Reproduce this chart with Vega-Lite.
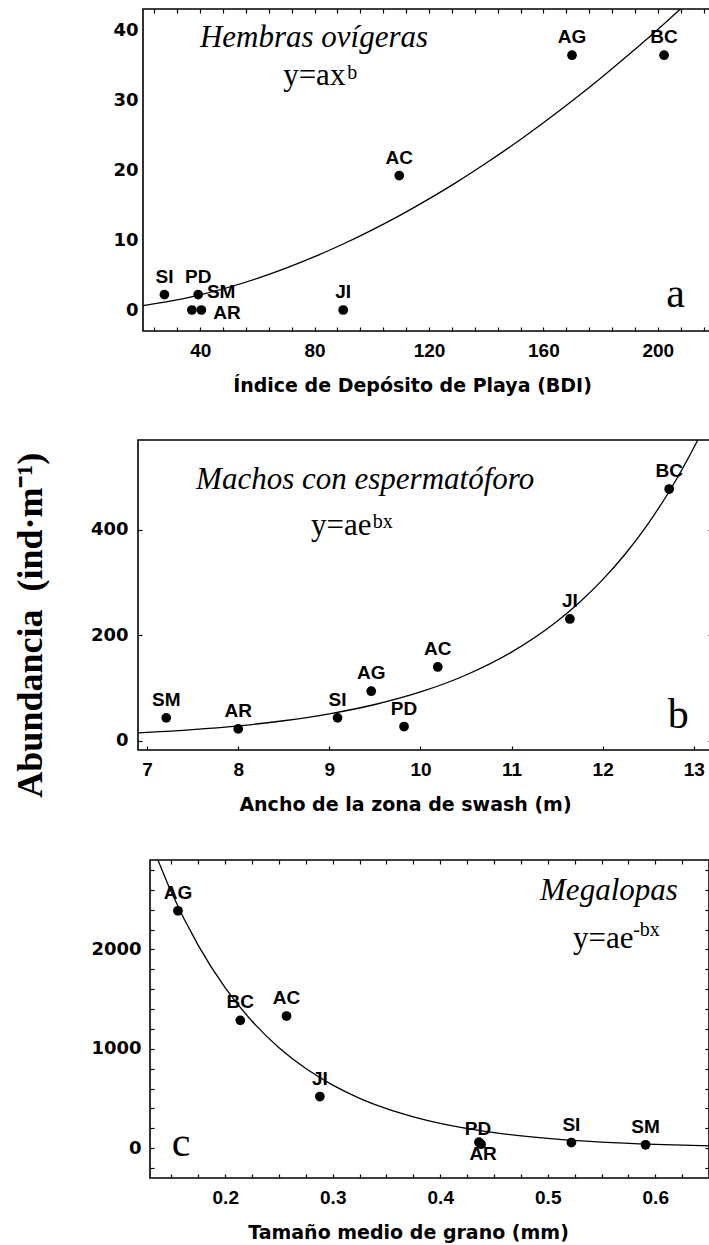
{
  "$schema": "https://vega.github.io/schema/vega-lite/v6.json",
  "padding": {"left": 12, "top": 7, "right": 0, "bottom": 0},
  "background": "white",
  "title": {"text": "Abundancia \u00a0(ind\u00b7m\u207b\u00b9)", "orient": "left", "anchor": "middle", "font": "Liberation Serif", "fontSize": 36, "fontWeight": "bold", "color": "black", "offset": 10},
  "config": {
    "view": {"stroke": "black", "strokeWidth": 1.6},
    "axis": {"domain": false, "grid": false, "labelFont": "Liberation Sans", "labelFontWeight": "bold", "labelFontSize": 19, "labelColor": "black", "tickColor": "black", "tickWidth": 1.2, "titleFont": "DejaVu Sans", "titleFontWeight": "bold", "titleFontSize": 19, "titleColor": "black", "labelOverlap": false, "labelFlush": false},
    "text": {"color": "black"}
  },
  "datasets": {
    "ptsA": [
      {"site": "SI", "x": 27.5, "y": 2.2},
      {"site": "PD", "x": 39.3, "y": 2.2},
      {"site": "SM", "x": 37.1, "y": 0},
      {"site": "AR", "x": 40.4, "y": 0},
      {"site": "JI", "x": 90, "y": 0},
      {"site": "AC", "x": 109.6, "y": 19.2},
      {"site": "AG", "x": 170, "y": 36.4},
      {"site": "BC", "x": 202.2, "y": 36.4}
    ],
    "curveA": [
      {"x": 20, "y": 0.62}, {"x": 30, "y": 1.29}, {"x": 40, "y": 2.17}, {"x": 50, "y": 3.25},
      {"x": 60, "y": 4.52}, {"x": 70, "y": 5.98}, {"x": 80, "y": 7.62}, {"x": 90, "y": 9.43},
      {"x": 100, "y": 11.41}, {"x": 110, "y": 13.55}, {"x": 120, "y": 15.87}, {"x": 130, "y": 18.34},
      {"x": 140, "y": 20.99}, {"x": 150, "y": 23.78}, {"x": 160, "y": 26.75}, {"x": 170, "y": 29.86},
      {"x": 180, "y": 33.12}, {"x": 190, "y": 36.53}, {"x": 200, "y": 40.07}, {"x": 210, "y": 43.79}
    ],
    "ptsB": [
      {"site": "SM", "x": 7.21, "y": 43},
      {"site": "AR", "x": 8.0, "y": 22},
      {"site": "SI", "x": 9.09, "y": 43},
      {"site": "AG", "x": 9.46, "y": 93.5},
      {"site": "PD", "x": 9.82, "y": 26.5},
      {"site": "AC", "x": 10.19, "y": 139.5},
      {"site": "JI", "x": 11.64, "y": 230.5},
      {"site": "BC", "x": 12.73, "y": 477}
    ],
    "curveB": [
      {"x": 6.9, "y": 14.4}, {"x": 7.0, "y": 15.3}, {"x": 7.5, "y": 20.6}, {"x": 8.0, "y": 27.8},
      {"x": 8.5, "y": 37.5}, {"x": 9.0, "y": 50.6}, {"x": 9.5, "y": 68.3}, {"x": 10.0, "y": 92.1},
      {"x": 10.5, "y": 124.3}, {"x": 11.0, "y": 167.7}, {"x": 11.5, "y": 226.2}, {"x": 11.75, "y": 262.7},
      {"x": 12.0, "y": 305.1}, {"x": 12.25, "y": 354.3}, {"x": 12.5, "y": 411.6}, {"x": 12.75, "y": 478},
      {"x": 13.0, "y": 555.3}, {"x": 13.1, "y": 589}
    ],
    "ptsC": [
      {"site": "AG", "x": 0.156, "y": 2389},
      {"site": "BC", "x": 0.214, "y": 1286},
      {"site": "AC", "x": 0.257, "y": 1330},
      {"site": "JI", "x": 0.288, "y": 520},
      {"site": "PD", "x": 0.436, "y": 60},
      {"site": "AR", "x": 0.438, "y": 40},
      {"site": "SI", "x": 0.522, "y": 57},
      {"site": "SM", "x": 0.591, "y": 34}
    ],
    "curveC": [
      {"x": 0.13, "y": 3102}, {"x": 0.15, "y": 2573}, {"x": 0.175, "y": 2038}, {"x": 0.2, "y": 1613},
      {"x": 0.225, "y": 1277}, {"x": 0.25, "y": 1011}, {"x": 0.275, "y": 801}, {"x": 0.3, "y": 634},
      {"x": 0.325, "y": 502}, {"x": 0.35, "y": 397}, {"x": 0.375, "y": 315}, {"x": 0.4, "y": 249},
      {"x": 0.45, "y": 156}, {"x": 0.5, "y": 98}, {"x": 0.55, "y": 61}, {"x": 0.6, "y": 38.5},
      {"x": 0.65, "y": 24.1}
    ]
  },
  "spacing": 43,
  "vconcat": [
    {
      "spacing": 0,
      "hconcat": [
        {"width": 12, "height": 10, "view": {"stroke": null}, "data": {"values": [{}]}, "mark": {"type": "point", "opacity": 0}},
        {
          "width": 572, "height": 322,
          "resolve": {"axis": {"x": "independent", "y": "independent"}},
          "layer": [
            {
              "data": {"name": "curveA"},
              "mark": {"type": "line", "color": "black", "strokeWidth": 1.3, "clip": true, "interpolate": "monotone"},
              "encoding": {
                "x": {"field": "x", "type": "quantitative", "scale": {"domain": [20, 220], "nice": false, "zero": false},
                  "axis": {"orient": "bottom", "title": "Índice de Depósito de Playa (BDI)", "values": [24,32,40,48,56,64,72,80,88,96,104,112,120,128,136,144,152,160,168,176,184,192,200,208,216], "labelExpr": "datum.value % 40 === 0 ? format(datum.value, 'd') : ''", "tickSize": -4, "labelPadding": 14, "titlePadding": 16, "titleX": 269}},
                "y": {"field": "y", "type": "quantitative", "scale": {"domain": [-3, 43], "nice": false, "zero": false},
                  "axis": {"orient": "left", "title": null, "values": [0, 10, 20, 30, 40], "ticks": false, "tickSize": 0, "labelPadding": 5, "minExtent": 70, "maxExtent": 70, "labelFont": "DejaVu Sans", "labelFontSize": 18}}
              }
            },
            {
              "data": {"name": "ptsA"},
              "mark": {"type": "circle", "size": 95, "color": "black", "opacity": 1},
              "encoding": {
                "x": {"field": "x", "type": "quantitative", "scale": {"domain": [20, 220], "nice": false, "zero": false},
                  "axis": {"orient": "top", "title": null, "labels": false, "values": [24,32,40,48,56,64,72,80,88,96,104,112,120,128,136,144,152,160,168,176,184,192,200,208,216], "tickSize": -4}},
                "y": {"field": "y", "type": "quantitative", "scale": {"domain": [-3, 43], "nice": false, "zero": false}, "axis": null}
              }
            },
            {
              "data": {"name": "ptsA"},
              "transform": [{"filter": "datum.site != 'SM' && datum.site != 'AR'"}],
              "mark": {"type": "text", "font": "Liberation Sans", "fontWeight": "bold", "fontSize": 19, "align": "center", "baseline": "alphabetic", "dy": -12},
              "encoding": {
                "x": {"field": "x", "type": "quantitative", "scale": {"domain": [20, 220], "nice": false, "zero": false}, "axis": null},
                "y": {"field": "y", "type": "quantitative", "scale": {"domain": [-3, 43], "nice": false, "zero": false}, "axis": null},
                "text": {"field": "site"}
              }
            },
            {
              "data": {"name": "ptsA"},
              "transform": [{"filter": "datum.site == 'SM'"}],
              "mark": {"type": "text", "font": "Liberation Sans", "fontWeight": "bold", "fontSize": 19, "align": "left", "baseline": "alphabetic", "dx": 15, "dy": -12},
              "encoding": {
                "x": {"field": "x", "type": "quantitative", "scale": {"domain": [20, 220], "nice": false, "zero": false}, "axis": null},
                "y": {"field": "y", "type": "quantitative", "scale": {"domain": [-3, 43], "nice": false, "zero": false}, "axis": null},
                "text": {"field": "site"}
              }
            },
            {
              "data": {"name": "ptsA"},
              "transform": [{"filter": "datum.site == 'AR'"}],
              "mark": {"type": "text", "font": "Liberation Sans", "fontWeight": "bold", "fontSize": 19, "align": "left", "baseline": "alphabetic", "dx": 12, "dy": 9},
              "encoding": {
                "x": {"field": "x", "type": "quantitative", "scale": {"domain": [20, 220], "nice": false, "zero": false}, "axis": null},
                "y": {"field": "y", "type": "quantitative", "scale": {"domain": [-3, 43], "nice": false, "zero": false}, "axis": null},
                "text": {"field": "site"}
              }
            },
            {
              "data": {"values": [{}]},
              "mark": {"type": "text", "font": "Liberation Serif", "fontStyle": "italic", "fontSize": 31, "align": "center", "baseline": "alphabetic"},
              "encoding": {
                "x": {"datum": 79.8, "type": "quantitative", "scale": {"domain": [20, 220], "nice": false, "zero": false}, "axis": null},
                "y": {"datum": 37.6, "type": "quantitative", "scale": {"domain": [-3, 43], "nice": false, "zero": false}, "axis": null},
                "text": {"value": "Hembras ovígeras"}
              }
            },
            {
              "data": {"values": [{}]},
              "mark": {"type": "text", "font": "Liberation Serif", "fontSize": 31, "align": "left", "baseline": "alphabetic"},
              "encoding": {
                "x": {"datum": 69.0, "type": "quantitative", "scale": {"domain": [20, 220], "nice": false, "zero": false}, "axis": null},
                "y": {"datum": 32.1, "type": "quantitative", "scale": {"domain": [-3, 43], "nice": false, "zero": false}, "axis": null},
                "text": {"value": "y=ax"}
              }
            },
            {
              "data": {"values": [{}]},
              "mark": {"type": "text", "font": "Liberation Serif", "fontSize": 20, "align": "left", "baseline": "alphabetic"},
              "encoding": {
                "x": {"datum": 91.4, "type": "quantitative", "scale": {"domain": [20, 220], "nice": false, "zero": false}, "axis": null},
                "y": {"datum": 33.0, "type": "quantitative", "scale": {"domain": [-3, 43], "nice": false, "zero": false}, "axis": null},
                "text": {"value": "b"}
              }
            },
            {
              "data": {"values": [{}]},
              "mark": {"type": "text", "font": "Liberation Serif", "fontSize": 42, "align": "center", "baseline": "alphabetic"},
              "encoding": {
                "x": {"datum": 206.2, "type": "quantitative", "scale": {"domain": [20, 220], "nice": false, "zero": false}, "axis": null},
                "y": {"datum": 0.5, "type": "quantitative", "scale": {"domain": [-3, 43], "nice": false, "zero": false}, "axis": null},
                "text": {"value": "a"}
              }
            }
          ]
        }
      ]
    },
    {
      "spacing": 0,
      "hconcat": [
        {"width": 7, "height": 10, "view": {"stroke": null}, "data": {"values": [{}]}, "mark": {"type": "point", "opacity": 0}},
        {
          "width": 574, "height": 310,
          "resolve": {"axis": {"x": "independent", "y": "independent"}},
          "layer": [
            {
              "data": {"name": "curveB"},
              "mark": {"type": "line", "color": "black", "strokeWidth": 1.3, "clip": true, "interpolate": "monotone"},
              "encoding": {
                "x": {"field": "x", "type": "quantitative", "scale": {"domain": [6.9, 13.2], "nice": false, "zero": false},
                  "axis": {"orient": "bottom", "title": "Ancho de la zona de swash (m)", "values": [7, 8, 9, 10, 11, 12, 13], "labelExpr": "format(datum.value, 'd')", "tickSize": -4, "labelPadding": 14, "titlePadding": 16, "titleX": 267}},
                "y": {"field": "y", "type": "quantitative", "scale": {"domain": [-18, 570], "nice": false, "zero": false},
                  "axis": {"orient": "left", "title": null, "values": [0, 200, 400], "tickSize": -4, "labelPadding": 14, "minExtent": 70, "maxExtent": 70, "labelFont": "DejaVu Sans", "labelFontSize": 18}}
              }
            },
            {
              "data": {"name": "ptsB"},
              "mark": {"type": "circle", "size": 95, "color": "black", "opacity": 1},
              "encoding": {
                "x": {"field": "x", "type": "quantitative", "scale": {"domain": [6.9, 13.2], "nice": false, "zero": false}, "axis": null},
                "y": {"field": "y", "type": "quantitative", "scale": {"domain": [-18, 570], "nice": false, "zero": false},
                  "axis": {"orient": "right", "title": null, "labels": false, "values": [0, 200, 400], "tickSize": -4}}
              }
            },
            {
              "data": {"name": "ptsB"},
              "mark": {"type": "text", "font": "Liberation Sans", "fontWeight": "bold", "fontSize": 19, "align": "center", "baseline": "alphabetic", "dy": -12},
              "encoding": {
                "x": {"field": "x", "type": "quantitative", "scale": {"domain": [6.9, 13.2], "nice": false, "zero": false}, "axis": null},
                "y": {"field": "y", "type": "quantitative", "scale": {"domain": [-18, 570], "nice": false, "zero": false}, "axis": null},
                "text": {"field": "site"}
              }
            },
            {
              "data": {"values": [{}]},
              "mark": {"type": "text", "font": "Liberation Serif", "fontStyle": "italic", "fontSize": 31, "align": "center", "baseline": "alphabetic"},
              "encoding": {
                "x": {"datum": 9.393, "type": "quantitative", "scale": {"domain": [6.9, 13.2], "nice": false, "zero": false}, "axis": null},
                "y": {"datum": 476.4, "type": "quantitative", "scale": {"domain": [-18, 570], "nice": false, "zero": false}, "axis": null},
                "text": {"value": "Machos con espermatóforo"}
              }
            },
            {
              "data": {"values": [{}]},
              "mark": {"type": "text", "font": "Liberation Serif", "fontSize": 31, "align": "left", "baseline": "alphabetic"},
              "encoding": {
                "x": {"datum": 8.80, "type": "quantitative", "scale": {"domain": [6.9, 13.2], "nice": false, "zero": false}, "axis": null},
                "y": {"datum": 390, "type": "quantitative", "scale": {"domain": [-18, 570], "nice": false, "zero": false}, "axis": null},
                "text": {"value": "y=ae"}
              }
            },
            {
              "data": {"values": [{}]},
              "mark": {"type": "text", "font": "Liberation Serif", "fontSize": 20, "align": "left", "baseline": "alphabetic"},
              "encoding": {
                "x": {"datum": 9.477, "type": "quantitative", "scale": {"domain": [6.9, 13.2], "nice": false, "zero": false}, "axis": null},
                "y": {"datum": 403, "type": "quantitative", "scale": {"domain": [-18, 570], "nice": false, "zero": false}, "axis": null},
                "text": {"value": "bx"}
              }
            },
            {
              "data": {"values": [{}]},
              "mark": {"type": "text", "font": "Liberation Serif", "fontSize": 42, "align": "center", "baseline": "alphabetic"},
              "encoding": {
                "x": {"datum": 12.83, "type": "quantitative", "scale": {"domain": [6.9, 13.2], "nice": false, "zero": false}, "axis": null},
                "y": {"datum": 23.3, "type": "quantitative", "scale": {"domain": [-18, 570], "nice": false, "zero": false}, "axis": null},
                "text": {"value": "b"}
              }
            }
          ]
        }
      ]
    },
    {
      "spacing": 0,
      "hconcat": [
        {"width": 19, "height": 10, "view": {"stroke": null}, "data": {"values": [{}]}, "mark": {"type": "point", "opacity": 0}},
        {
          "width": 559, "height": 318,
          "resolve": {"axis": {"x": "independent", "y": "independent"}},
          "layer": [
            {
              "data": {"name": "curveC"},
              "mark": {"type": "line", "color": "black", "strokeWidth": 1.3, "clip": true, "interpolate": "monotone"},
              "encoding": {
                "x": {"field": "x", "type": "quantitative", "scale": {"domain": [0.13, 0.65], "nice": false, "zero": false},
                  "axis": {"orient": "bottom", "title": "Tamaño medio de grano (mm)", "values": [0.15,0.175,0.2,0.225,0.25,0.275,0.3,0.325,0.35,0.375,0.4,0.425,0.45,0.475,0.5,0.525,0.55,0.575,0.6,0.625], "labelExpr": "abs(datum.value*10 - round(datum.value*10)) < 0.001 ? format(datum.value, '.1f') : ''", "tickSize": -4, "labelPadding": 14, "titlePadding": 16, "titleX": 258}},
                "y": {"field": "y", "type": "quantitative", "scale": {"domain": [-300, 2900], "nice": false, "zero": false},
                  "axis": {"orient": "left", "title": null, "values": [-200,0,200,400,600,800,1000,1200,1400,1600,1800,2000,2200,2400,2600,2800], "labelExpr": "datum.value % 1000 === 0 ? format(datum.value, 'd') : ''", "tickSize": -4, "labelPadding": 13, "minExtent": 70, "maxExtent": 70, "labelFont": "DejaVu Sans", "labelFontSize": 18}}
              }
            },
            {
              "data": {"name": "ptsC"},
              "mark": {"type": "circle", "size": 95, "color": "black", "opacity": 1},
              "encoding": {
                "x": {"field": "x", "type": "quantitative", "scale": {"domain": [0.13, 0.65], "nice": false, "zero": false},
                  "axis": {"orient": "top", "title": null, "labels": false, "values": [0.15,0.175,0.2,0.225,0.25,0.275,0.3,0.325,0.35,0.375,0.4,0.425,0.45,0.475,0.5,0.525,0.55,0.575,0.6,0.625], "tickSize": -4}},
                "y": {"field": "y", "type": "quantitative", "scale": {"domain": [-300, 2900], "nice": false, "zero": false},
                  "axis": {"orient": "right", "title": null, "labels": false, "values": [-200,0,200,400,600,800,1000,1200,1400,1600,1800,2000,2200,2400,2600,2800], "tickSize": -4}}
              }
            },
            {
              "data": {"name": "ptsC"},
              "transform": [{"filter": "datum.site != 'PD' && datum.site != 'AR'"}],
              "mark": {"type": "text", "font": "Liberation Sans", "fontWeight": "bold", "fontSize": 19, "align": "center", "baseline": "alphabetic", "dy": -12},
              "encoding": {
                "x": {"field": "x", "type": "quantitative", "scale": {"domain": [0.13, 0.65], "nice": false, "zero": false}, "axis": null},
                "y": {"field": "y", "type": "quantitative", "scale": {"domain": [-300, 2900], "nice": false, "zero": false}, "axis": null},
                "text": {"field": "site"}
              }
            },
            {
              "data": {"name": "ptsC"},
              "transform": [{"filter": "datum.site == 'PD'"}],
              "mark": {"type": "text", "font": "Liberation Sans", "fontWeight": "bold", "fontSize": 19, "align": "center", "baseline": "alphabetic", "dx": -1, "dy": -7},
              "encoding": {
                "x": {"field": "x", "type": "quantitative", "scale": {"domain": [0.13, 0.65], "nice": false, "zero": false}, "axis": null},
                "y": {"field": "y", "type": "quantitative", "scale": {"domain": [-300, 2900], "nice": false, "zero": false}, "axis": null},
                "text": {"field": "site"}
              }
            },
            {
              "data": {"name": "ptsC"},
              "transform": [{"filter": "datum.site == 'AR'"}],
              "mark": {"type": "text", "font": "Liberation Sans", "fontWeight": "bold", "fontSize": 19, "align": "center", "baseline": "alphabetic", "dx": 2, "dy": 16},
              "encoding": {
                "x": {"field": "x", "type": "quantitative", "scale": {"domain": [0.13, 0.65], "nice": false, "zero": false}, "axis": null},
                "y": {"field": "y", "type": "quantitative", "scale": {"domain": [-300, 2900], "nice": false, "zero": false}, "axis": null},
                "text": {"field": "site"}
              }
            },
            {
              "data": {"values": [{}]},
              "mark": {"type": "text", "font": "Liberation Serif", "fontStyle": "italic", "fontSize": 31, "align": "center", "baseline": "alphabetic"},
              "encoding": {
                "x": {"datum": 0.5569, "type": "quantitative", "scale": {"domain": [0.13, 0.65], "nice": false, "zero": false}, "axis": null},
                "y": {"datum": 2496, "type": "quantitative", "scale": {"domain": [-300, 2900], "nice": false, "zero": false}, "axis": null},
                "text": {"value": "Megalopas"}
              }
            },
            {
              "data": {"values": [{}]},
              "mark": {"type": "text", "font": "Liberation Serif", "fontSize": 31, "align": "left", "baseline": "alphabetic"},
              "encoding": {
                "x": {"datum": 0.5234, "type": "quantitative", "scale": {"domain": [0.13, 0.65], "nice": false, "zero": false}, "axis": null},
                "y": {"datum": 2010, "type": "quantitative", "scale": {"domain": [-300, 2900], "nice": false, "zero": false}, "axis": null},
                "text": {"value": "y=ae"}
              }
            },
            {
              "data": {"values": [{}]},
              "mark": {"type": "text", "font": "Liberation Serif", "fontSize": 20, "align": "left", "baseline": "alphabetic"},
              "encoding": {
                "x": {"datum": 0.5795, "type": "quantitative", "scale": {"domain": [0.13, 0.65], "nice": false, "zero": false}, "axis": null},
                "y": {"datum": 2138, "type": "quantitative", "scale": {"domain": [-300, 2900], "nice": false, "zero": false}, "axis": null},
                "text": {"value": "-bx"}
              }
            },
            {
              "data": {"values": [{}]},
              "mark": {"type": "text", "font": "Liberation Serif", "fontSize": 42, "align": "center", "baseline": "alphabetic"},
              "encoding": {
                "x": {"datum": 0.159, "type": "quantitative", "scale": {"domain": [0.13, 0.65], "nice": false, "zero": false}, "axis": null},
                "y": {"datum": -83, "type": "quantitative", "scale": {"domain": [-300, 2900], "nice": false, "zero": false}, "axis": null},
                "text": {"value": "c"}
              }
            }
          ]
        }
      ]
    }
  ]
}
